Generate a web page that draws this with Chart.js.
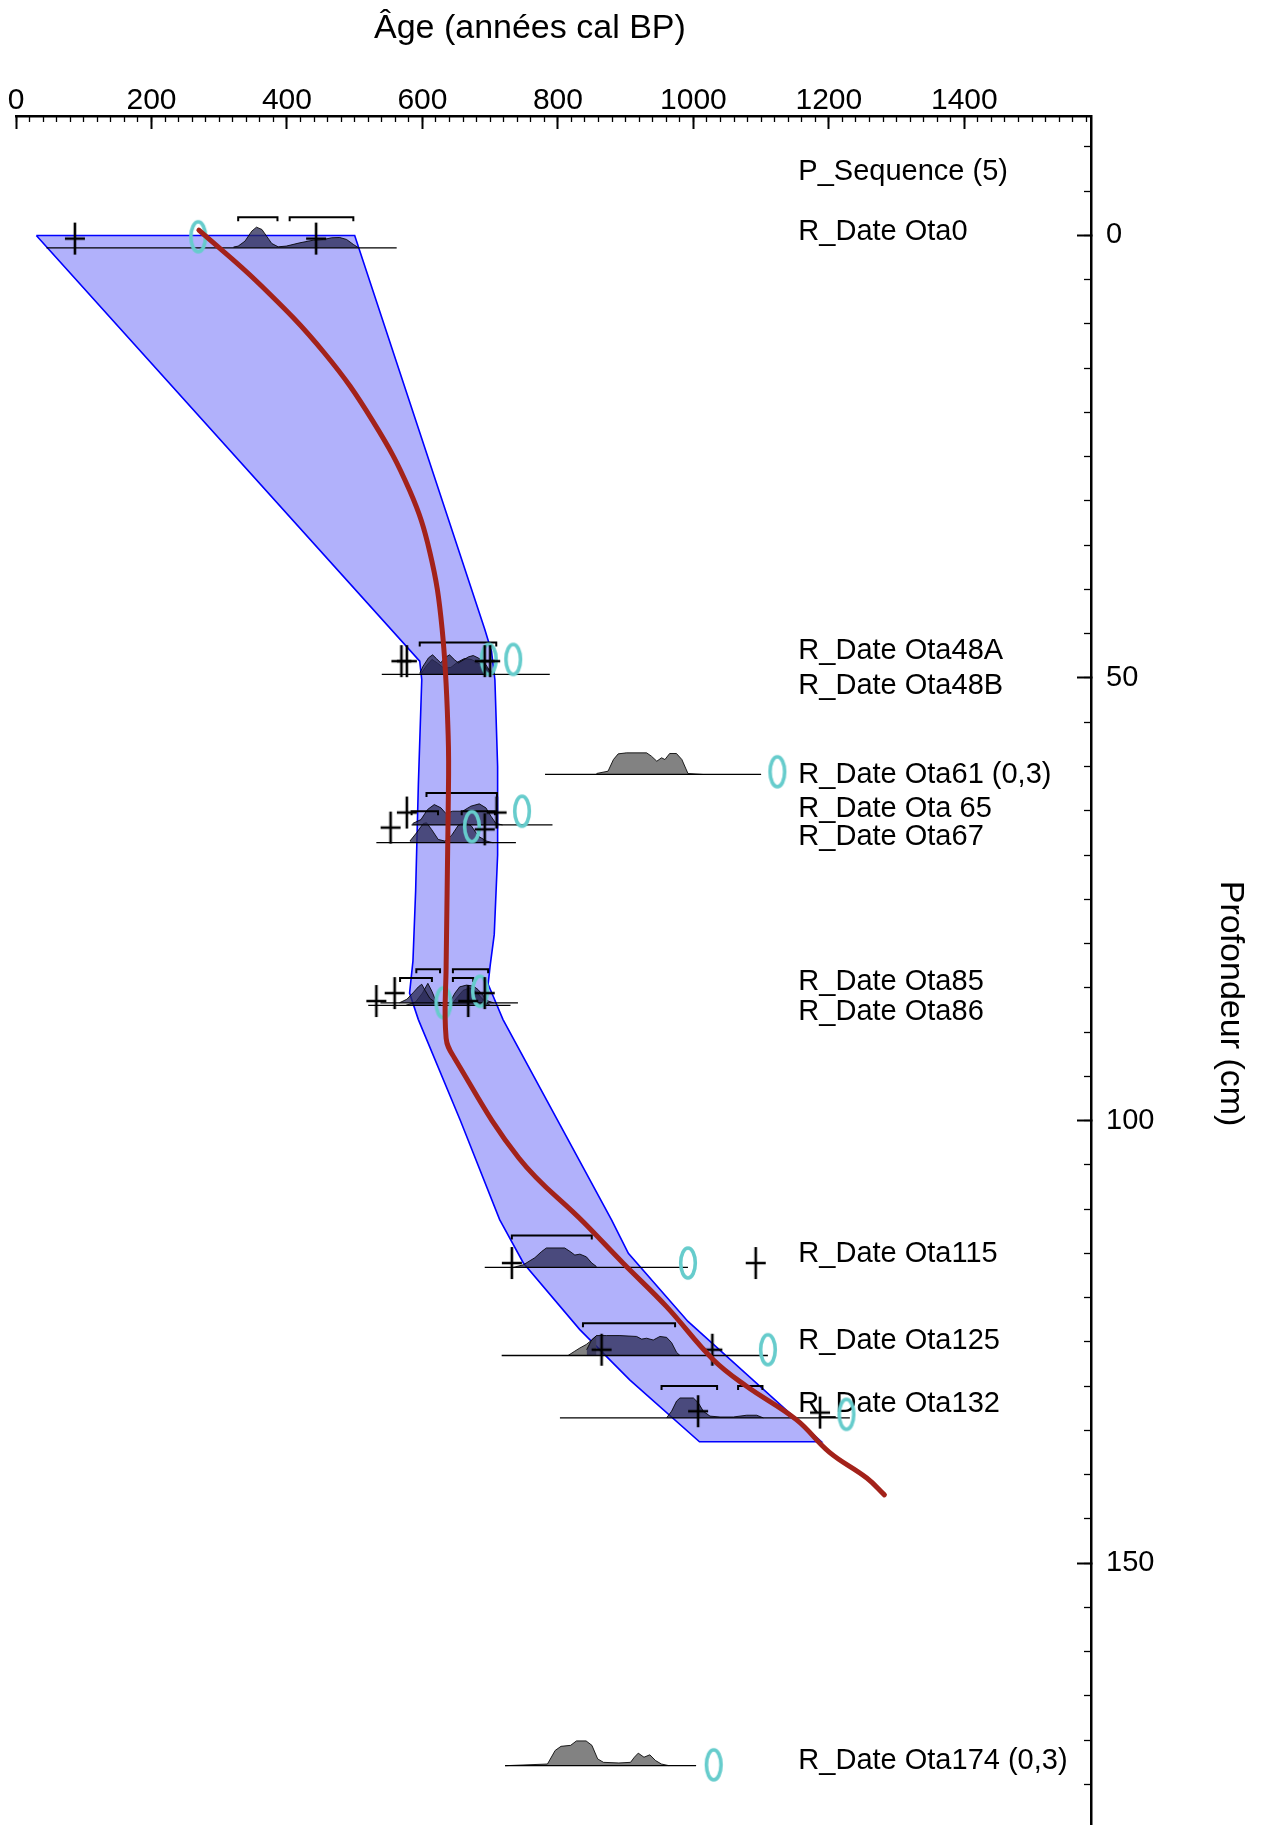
<!DOCTYPE html>
<html lang="fr">
<head>
<meta charset="utf-8">
<title>P_Sequence - modèle âge-profondeur</title>
<script src="https://cdn.jsdelivr.net/npm/chart.js@4.4.1/dist/chart.umd.min.js"></script>
<style>
  html, body { margin: 0; padding: 0; background: #fff; }
  canvas { display: block; }
</style>
</head>
<body>
<canvas id="ageDepthChart" width="1271" height="1825"></canvas>
<script>
// axis ranges (années cal BP / cm)
const ageMax = 1587;
const depthMin = -13.5;
const depthMax = 179.6;
const ageTicks = [0, 200, 400, 600, 800, 1000, 1200, 1400];
const depthTicks = [0, 50, 100, 150];

// 95% envelope of the depth model
const envLeftAge    = [30, 596, 599, 594, 590, 586, 581, 594, 656, 714, 749, 832, 906, 1009];
const envLeftDepth  = [0, 48.1, 50.2, 62, 74, 82, 85.6, 88.6, 100, 111.2, 116.1, 123.6, 129.3, 136.3];
const envRightAge   = [500, 692, 702, 707, 711, 711, 706, 700, 697, 719, 879, 904, 992, 1189];
const envRightDepth = [0, 44.5, 47, 50.2, 60, 70, 79, 82.5, 84.6, 88.6, 111.2, 115, 122.7, 136.3];

// mean age-depth curve
const meanAge   = [270, 359, 455, 527, 581, 611, 629, 638, 638, 635, 635, 647, 742, 838, 896, 960, 1029, 1078, 1152, 1201, 1256, 1282];
const meanDepth = [-0.6, 5.45, 13.25, 21.0, 28.8, 35.8, 44.4, 56.5, 65.2, 82.5, 90.7, 92.9, 104.2, 111.5, 116.1, 121, 127, 130, 133.8, 137.5, 140.4, 142.3];

// posterior distributions (age, top of curve in cm)
const ota0Age = [321, 328, 338, 348, 355, 363, 370, 377.5, 387, 399, 419, 439, 454, 466, 478, 488, 498, 505];
const ota0Top = [1.31, 1.2, 0.64, -0.49, -0.94, -0.68, 0.08, 0.9, 1.28, 1.2, 0.83, 0.53, 0.45, 0.26, 0.23, 0.45, 1.01, 1.35];
const ota48aAge = [596, 601, 609, 615, 621, 627, 633, 640, 647, 653, 660, 668, 675, 682, 690, 695, 701, 707];
const ota48aTop = [49.49, 48.66, 47.72, 47.38, 47.83, 48.29, 47.72, 47.38, 47.91, 48.29, 47.98, 47.61, 47.46, 47.72, 48.1, 48.66, 49.34, 49.57];
const ota48bAge = [598, 606, 614, 622, 632, 642, 652, 662, 672, 682, 692, 700, 707];
const ota48bTop = [49.5, 48.6, 47.9, 48.3, 48.9, 48.8, 48.2, 47.8, 47.9, 48.3, 48.7, 49.2, 49.6];
const ota65Age = [585.5, 597.8, 607.6, 617.5, 627.3, 634.7, 644.5, 659.3, 671.6, 683.9, 693.7, 701.1, 708.5, 718.3];
const ota65Top = [66.44, 66.0, 64.86, 64.3, 64.67, 65.31, 65.05, 65.05, 64.48, 64.22, 64.67, 65.61, 66.44, 66.6];
const ota67Age = [581.5, 591.3, 601.2, 606.1, 613.5, 623.3, 633.2, 643, 652.8, 662.7, 672.5, 682.4, 694.7, 704.5];
const ota67Top = [68.43, 67.49, 66.44, 66.36, 67.11, 68.24, 68.43, 67.79, 66.66, 66.29, 66.74, 67.87, 68.43, 68.62];
const ota85Age = [566, 577, 587, 594, 599, 604, 611, 618, 630, 640, 648, 655, 665, 675, 682, 690, 697, 705];
const ota85Top = [86.7, 86.3, 85.5, 84.9, 84.6, 85.3, 86.2, 86.6, 86.7, 86.7, 85.6, 84.9, 84.7, 84.8, 85.2, 85.9, 86.5, 86.7];
const ota86Age = [575, 590, 600, 608, 614, 620, 628, 642, 650, 660, 670, 680, 690, 700];
const ota86Top = [87.0, 86.6, 85.6, 84.5, 85.4, 86.5, 87.0, 87.0, 86.2, 85.3, 85.0, 85.5, 86.4, 87.0];
const ota115Age = [734, 749, 766, 776, 783, 810, 818, 825, 832.5, 842, 850, 857];
const ota115Top = [116.6, 116.3, 115.5, 114.8, 114.4, 114.4, 114.8, 115.2, 115.1, 115.4, 116.1, 116.5];
const ota125Age = [842.4, 849.7, 857.1, 871.9, 891.6, 916.2, 923.6, 931, 940.8, 950.6, 960.5, 967.9, 975.2, 980.2];
const ota125Top = [125.9, 124.8, 124.3, 124.3, 124.3, 124.4, 124.7, 124.6, 124.8, 124.4, 124.5, 125.1, 126.2, 126.55];
const ota132Age = [960.4, 967.8, 975.2, 980.2, 1000, 1007.3, 1014.7, 1024.5, 1039.3, 1059, 1078.6, 1093.4, 1103.3];
const ota132Top = [133.6, 132.85, 131.7, 131.35, 131.35, 131.9, 132.85, 133.4, 133.5, 133.5, 133.3, 133.3, 133.6];

// likelihoods shown in grey (outliers and uncovered parts)
const ota61Age = [857, 874, 882, 889, 901, 931, 938, 946, 953, 958, 965, 975, 983, 992, 1014];
const ota61Top = [60.79, 60.53, 59.21, 58.57, 58.46, 58.46, 58.83, 59.4, 59.02, 59.21, 58.53, 58.53, 59.21, 60.79, 60.9];
const ota125GreyAge = [815, 825, 832.5, 842, 850, 857];
const ota125GreyTop = [126.55, 126.06, 125.7, 125.3, 124.8, 124.3];
const ota174Age = [722, 784.6, 796, 804.6, 818.8, 827.4, 841.6, 850.2, 858.7, 867.3, 890, 907.2, 912.9, 918.6, 927.1, 935.7, 944.2, 952.8, 964.2];
const ota174Top = [172.9, 172.71, 171.17, 170.71, 170.6, 170.1, 170.1, 170.6, 172.13, 172.52, 172.59, 172.52, 171.94, 171.48, 171.94, 171.67, 172.32, 172.71, 172.9];

// date baselines
const baseDepth = [1.4, 49.6, 60.9, 66.6, 68.6, 86.7, 87.0, 116.6, 126.55, 133.6, 172.9];
const baseStart = [45, 540, 781, 584, 532, 538, 520, 692, 717, 803, 722];
const baseEnd   = [562, 788, 1100, 792, 738, 741, 730, 992, 1110, 1231, 1004];

// range brackets
const bracketDepth = [-2.07, -2.07, 46.0, 63.0, 65.05, 65.05, 82.9, 82.9, 83.9, 83.9, 113.0, 122.9, 130.0, 130.0];
const bracketStart = [328, 404, 596, 606, 584, 658, 591, 645, 567, 645, 732, 837, 953, 1066];
const bracketEnd   = [386, 498, 709, 710, 623, 707, 626, 697, 614, 675, 850, 973, 1035, 1102];

// crosses and agreement rings
const crossAge   = [87, 443, 569, 577, 692, 700, 577, 709.5, 553, 692, 532, 559, 667.6, 692, 732, 1092, 864.5, 1028, 1007, 1187];
const crossDepth = [0.35, 0.35, 48.1, 48.1, 48.1, 48.1, 65.2, 65.2, 66.9, 67.1, 86.5, 85.6, 86.5, 85.6, 116.1, 116.1, 125.9, 125.9, 132.85, 133];
const ringAge   = [269, 698, 734, 1124, 747, 673, 631, 685, 992, 1110, 1226, 1030];
const ringDepth = [0.15, 47.9, 47.9, 60.6, 65.05, 66.8, 86.7, 85.4, 116.1, 125.9, 133.2, 172.8];

// labels
const dateLabels = ['P_Sequence (5)', 'R_Date Ota0', 'R_Date Ota48A', 'R_Date Ota48B', 'R_Date Ota61 (0,3)',
  'R_Date Ota 65', 'R_Date Ota67', 'R_Date Ota85', 'R_Date Ota86', 'R_Date Ota115', 'R_Date Ota125',
  'R_Date Ota132', 'R_Date Ota174 (0,3)'];
const dateLabelDepth = [-7.2, -0.4, 46.9, 50.9, 61.0, 64.8, 68.0, 84.4, 87.7, 115.1, 124.9, 132.0, 172.4];
const labelAge = 1155;

const FONT = '"Liberation Sans", Arial, Helvetica, sans-serif';
const DARK = 'rgba(42,42,86,0.76)';
const GREY = '#828282';

function pts(ages, depths) {
  return ages.map((a, i) => ({ x: a, y: depths[i] }));
}

function makeCross() {
  const c = document.createElement('canvas');
  c.width = 22; c.height = 34;
  const g = c.getContext('2d');
  g.strokeStyle = '#000';
  g.lineWidth = 2.6;
  g.beginPath();
  g.moveTo(11, 1); g.lineTo(11, 33);
  g.moveTo(1, 17); g.lineTo(21, 17);
  g.stroke();
  return c;
}

function makeRing() {
  const c = document.createElement('canvas');
  c.width = 22; c.height = 36;
  const g = c.getContext('2d');
  g.strokeStyle = '#66cccc';
  g.lineWidth = 3.6;
  g.beginPath();
  g.ellipse(11, 18, 7.3, 15, 0, 0, Math.PI * 2);
  g.stroke();
  return c;
}

// keep the layout from adding label padding around the plot
function fixBox(w, h) {
  return s => {
    if (w !== null) s.width = w;
    if (h !== null) s.height = h;
    s.paddingTop = 0; s.paddingBottom = 0; s.paddingLeft = 0; s.paddingRight = 0;
  };
}
const setTicks = values => s => { s.ticks = values.map(v => ({ value: v })); };

const common = { xAxisID: 'x', yAxisID: 'y' };
const lineBase = { ...common, showLine: true, pointRadius: 0, tension: 0 };

const dists = [
  { age: ota0Age, top: ota0Top, base: 1.4, color: DARK },
  { age: ota48aAge, top: ota48aTop, base: 49.6, color: DARK },
  { age: ota48bAge, top: ota48bTop, base: 49.6, color: DARK },
  { age: ota65Age, top: ota65Top, base: 66.6, color: DARK },
  { age: ota67Age, top: ota67Top, base: 68.6, color: DARK },
  { age: ota85Age, top: ota85Top, base: 86.7, color: DARK },
  { age: ota86Age, top: ota86Top, base: 87.0, color: DARK },
  { age: ota115Age, top: ota115Top, base: 116.6, color: DARK },
  { age: ota125Age, top: ota125Top, base: 126.55, color: DARK },
  { age: ota132Age, top: ota132Top, base: 133.6, color: DARK },
  { age: ota61Age, top: ota61Top, base: 60.9, color: GREY },
  { age: ota125GreyAge, top: ota125GreyTop, base: 126.55, color: GREY },
  { age: ota174Age, top: ota174Top, base: 172.9, color: GREY }
];

const datasets = [];

// first dataset is drawn on top
datasets.push({
  ...lineBase,
  data: pts(meanAge, meanDepth),
  borderColor: '#a3221a',
  borderWidth: 5,
  tension: 0.4,
  borderCapStyle: 'round',
  fill: false
});
datasets.push({ ...common, data: pts(crossAge, crossDepth), pointStyle: makeCross(), pointRadius: 10, showLine: false });
datasets.push({ ...common, data: pts(ringAge, ringDepth), pointStyle: makeRing(), pointRadius: 10, showLine: false });

bracketDepth.forEach((d, i) => {
  datasets.push({
    ...lineBase,
    data: [
      { x: bracketStart[i], y: d + 0.45 }, { x: bracketStart[i], y: d },
      { x: bracketEnd[i], y: d }, { x: bracketEnd[i], y: d + 0.45 }
    ],
    borderColor: '#000',
    borderWidth: 2,
    fill: false
  });
});

baseDepth.forEach((d, i) => {
  datasets.push({
    ...lineBase,
    data: [{ x: baseStart[i], y: d }, { x: baseEnd[i], y: d }],
    borderColor: '#000',
    borderWidth: 1.3,
    fill: false
  });
});

dists.forEach(dist => {
  datasets.push({
    ...lineBase,
    data: pts(dist.age, dist.top),
    borderColor: 'rgba(0,0,0,0.85)',
    borderWidth: 1,
    backgroundColor: dist.color,
    fill: { value: dist.base }
  });
});

const envPoly = pts(envLeftAge, envLeftDepth)
  .concat(pts(envRightAge, envRightDepth).reverse())
  .concat([{ x: envLeftAge[0], y: envLeftDepth[0] }]);

datasets.push({
  ...lineBase,
  indexAxis: 'y',
  data: envPoly,
  borderColor: '#0000ff',
  borderWidth: 1.6,
  backgroundColor: '#b1b1fb',
  fill: 'shape'
});
const envIndex = datasets.length - 1;

const labelPlugin = {
  id: 'dateLabels',
  afterDatasetDraw(chart, args) {
    if (args.index !== envIndex) return;
    const { ctx, scales } = chart;
    ctx.save();
    ctx.font = '29px ' + FONT;
    ctx.fillStyle = '#000';
    ctx.textAlign = 'left';
    ctx.textBaseline = 'middle';
    dateLabels.forEach((t, i) => {
      ctx.fillText(t, scales.x.getPixelForValue(labelAge), scales.y.getPixelForValue(dateLabelDepth[i]));
    });
    ctx.restore();
  }
};

const tickFont = size => ({ family: FONT, size });

new Chart(document.getElementById('ageDepthChart'), {
  type: 'scatter',
  data: { datasets },
  plugins: [labelPlugin],
  options: {
    responsive: false,
    animation: false,
    events: [],
    layout: { padding: { left: 16, top: 0, right: 0, bottom: 0 }, autoPadding: false },
    plugins: { legend: { display: false }, tooltip: { enabled: false } },
    scales: {
      x: {
        type: 'linear', position: 'top', min: 0, max: ageMax, weight: 1,
        afterBuildTicks: setTicks(ageTicks),
        afterFit: fixBox(null, 116),
        border: { display: true, color: '#000', width: 2.5 },
        grid: { drawOnChartArea: false, tickLength: -13, tickWidth: 2, tickColor: '#000' },
        ticks: {
          autoSkip: false, maxRotation: 0,
          padding: 10, color: '#000', font: tickFont(30), callback: v => String(v)
        },
        title: {
          display: true, text: 'Âge (années cal BP)     ', color: '#000',
          font: tickFont(34), padding: { top: 8, bottom: 0 }
        }
      },
      y: {
        type: 'linear', position: 'right', reverse: true, min: depthMin, max: depthMax, weight: 1,
        afterBuildTicks: setTicks(depthTicks),
        afterFit: fixBox(180, null),
        border: { display: true, color: '#000', width: 2.5 },
        grid: { drawOnChartArea: false, tickLength: -14, tickWidth: 2, tickColor: '#000' },
        ticks: {
          autoSkip: false,
          padding: 29, color: '#000', font: tickFont(29), callback: v => String(v)
        },
        title: {
          display: true, text: '       Profondeur (cm)', color: '#000',
          font: tickFont(34), padding: { top: 20, bottom: 0 }
        }
      },
      xMinor: {
        type: 'linear', position: 'top', min: 0, max: ageMax, weight: 0,
        afterFit: fixBox(null, 0),
        border: { display: false },
        grid: { drawOnChartArea: false, tickLength: -6, tickWidth: 1.3, tickColor: '#000' },
        ticks: { display: false, stepSize: 20, includeBounds: false, maxTicksLimit: 1000 }
      },
      yMinor: {
        type: 'linear', position: 'right', reverse: true, min: depthMin, max: depthMax, weight: 0,
        afterFit: fixBox(0, null),
        border: { display: false },
        grid: { drawOnChartArea: false, tickLength: -7, tickWidth: 1.3, tickColor: '#000' },
        ticks: { display: false, stepSize: 5, includeBounds: false, maxTicksLimit: 1000 }
      }
    }
  }
});
</script>
</body>
</html>
